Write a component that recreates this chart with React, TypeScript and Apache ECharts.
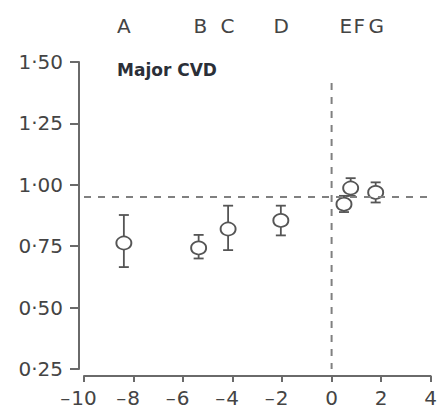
import React, { useEffect, useRef } from "react";
import * as echarts from "echarts";

// Point estimates (x = position, y = ratio) with confidence limits
const pointNames = ["A", "B", "C", "D", "E", "F", "G"];
const xValues = [-8.39, -5.37, -4.18, -2.05, 0.5, 0.77, 1.78];
const yValues = [0.763, 0.743, 0.82, 0.855, 0.921, 0.987, 0.969];
const lowValues = [0.665, 0.7, 0.734, 0.794, 0.889, 0.955, 0.928];
const highValues = [0.877, 0.796, 0.915, 0.915, 0.955, 1.027, 1.01];

// Top letters and their positions
const topLetters = ["A", "B", "C", "D", "E", "F", "G"];
const topPositions = [-8.39, -5.3, -4.2, -2.04, 0.57, 1.12, 1.8];

// Reference lines
const refY = 0.951;
const refX = 0;
const refXTop = 1.415;
const refXBottom = 0.25;

const xTicks = [-10, -8, -6, -4, -2, 0, 2, 4];
const yTicks = [0.25, 0.5, 0.75, 1.0, 1.25, 1.5];

const FONT = "DejaVu Sans";
const TEXT = "#444";
const AXIS = "#6a6a6a";

export default function App() {
  const ref = useRef<HTMLDivElement>(null);
  useEffect(() => {
    if (!ref.current) return;
    const chart = echarts.init(ref.current, undefined, { renderer: "svg" });
    const scatterData = xValues.map((x, i) => [x, yValues[i]]);
    const errData = xValues.map((x, i) => [x, lowValues[i], highValues[i]]);
    const dash = { type: [7, 7], color: "#808080", width: 2 };
    chart.setOption({
      animation: false,
      title: {
        text: "Major CVD",
        left: 112,
        top: 56,
        textStyle: { fontFamily: FONT, fontSize: 17, fontWeight: "bold", color: "#2b2f38" },
      },
      grid: { left: 84, right: 8, top: 62, bottom: 41 },
      xAxis: [
        {
          type: "value",
          min: -10,
          max: 4,
          interval: 2,
          offset: 7,
          axisLine: { show: true, onZero: false, lineStyle: { color: AXIS, width: 2 } },
          axisTick: { show: true, length: 6, lineStyle: { color: AXIS, width: 2 }, customValues: xTicks },
          splitLine: { show: false },
          axisLabel: {
            customValues: xTicks,
            margin: 12,
            fontFamily: FONT,
            fontSize: 20,
            color: TEXT,
            formatter: (v: number) => (v < 0 ? `{m|–}{d|${Math.abs(v)}}{p|}` : `{d|${v}}`),
            rich: {
              m: { fontFamily: FONT, fontSize: 20, color: TEXT, width: 11, align: "left" },
              d: { fontFamily: FONT, fontSize: 20, color: TEXT },
              p: { fontFamily: FONT, fontSize: 20, width: 11 },
            },
          },
        },
        {
          type: "value",
          position: "top",
          min: -10,
          max: 4,
          axisLine: { show: false, onZero: false },
          axisTick: { show: false },
          splitLine: { show: false },
          axisLabel: {
            customValues: topPositions,
            margin: 26,
            fontFamily: FONT,
            fontSize: 20,
            color: TEXT,
            formatter: (v: number) => {
              const i = topPositions.findIndex((p) => Math.abs(p - v) < 1e-6);
              return i >= 0 ? topLetters[i] : "";
            },
          },
        },
      ],
      yAxis: {
        type: "value",
        min: 0.25,
        max: 1.5,
        interval: 0.25,
        offset: 5,
        axisLine: { show: true, onZero: false, lineStyle: { color: AXIS, width: 2 } },
        axisTick: { show: true, length: 9, lineStyle: { color: AXIS, width: 2 }, customValues: yTicks },
        splitLine: { show: false },
        axisLabel: {
          customValues: yTicks,
          margin: 16,
          fontFamily: FONT,
          fontSize: 20,
          color: TEXT,
          formatter: (v: number) => v.toFixed(2).replace(".", "·"),
        },
      },
      series: [
        {
          type: "line",
          name: "refX",
          xAxisIndex: 0,
          data: [
            [refX, refXTop],
            [refX, refXBottom],
          ],
          symbol: "none",
          silent: true,
          z: 1,
          lineStyle: dash,
        },
        {
          type: "custom",
          xAxisIndex: 0,
          data: errData,
          z: 2,
          renderItem: (params: any, api: any) => {
            const x = api.value(0);
            const lo = api.coord([x, api.value(1)]);
            const hi = api.coord([x, api.value(2)]);
            const w = 5;
            const style = { stroke: "#555", lineWidth: 1.8 };
            return {
              type: "group",
              children: [
                { type: "line", shape: { x1: lo[0], y1: lo[1], x2: hi[0], y2: hi[1] }, style },
                { type: "line", shape: { x1: hi[0] - w, y1: hi[1], x2: hi[0] + w, y2: hi[1] }, style },
                { type: "line", shape: { x1: lo[0] - w, y1: lo[1], x2: lo[0] + w, y2: lo[1] }, style },
              ],
            };
          },
        },
        {
          type: "scatter",
          name: "estimates",
          xAxisIndex: 0,
          data: scatterData,
          symbol: "circle",
          symbolSize: [15, 13],
          z: 4,
          itemStyle: { color: "#fff", borderColor: "#555", borderWidth: 1.8, opacity: 1 },
          markLine: {
            silent: true,
            symbol: "none",
            label: { show: false },
            lineStyle: dash,
            data: [{ yAxis: refY }],
          },
        },
      ],
    });
    return () => chart.dispose();
  }, []);
  return <div ref={ref} style={{ width: 440, height: 410, position: "absolute", left: 0, top: 0 }} />;
}
